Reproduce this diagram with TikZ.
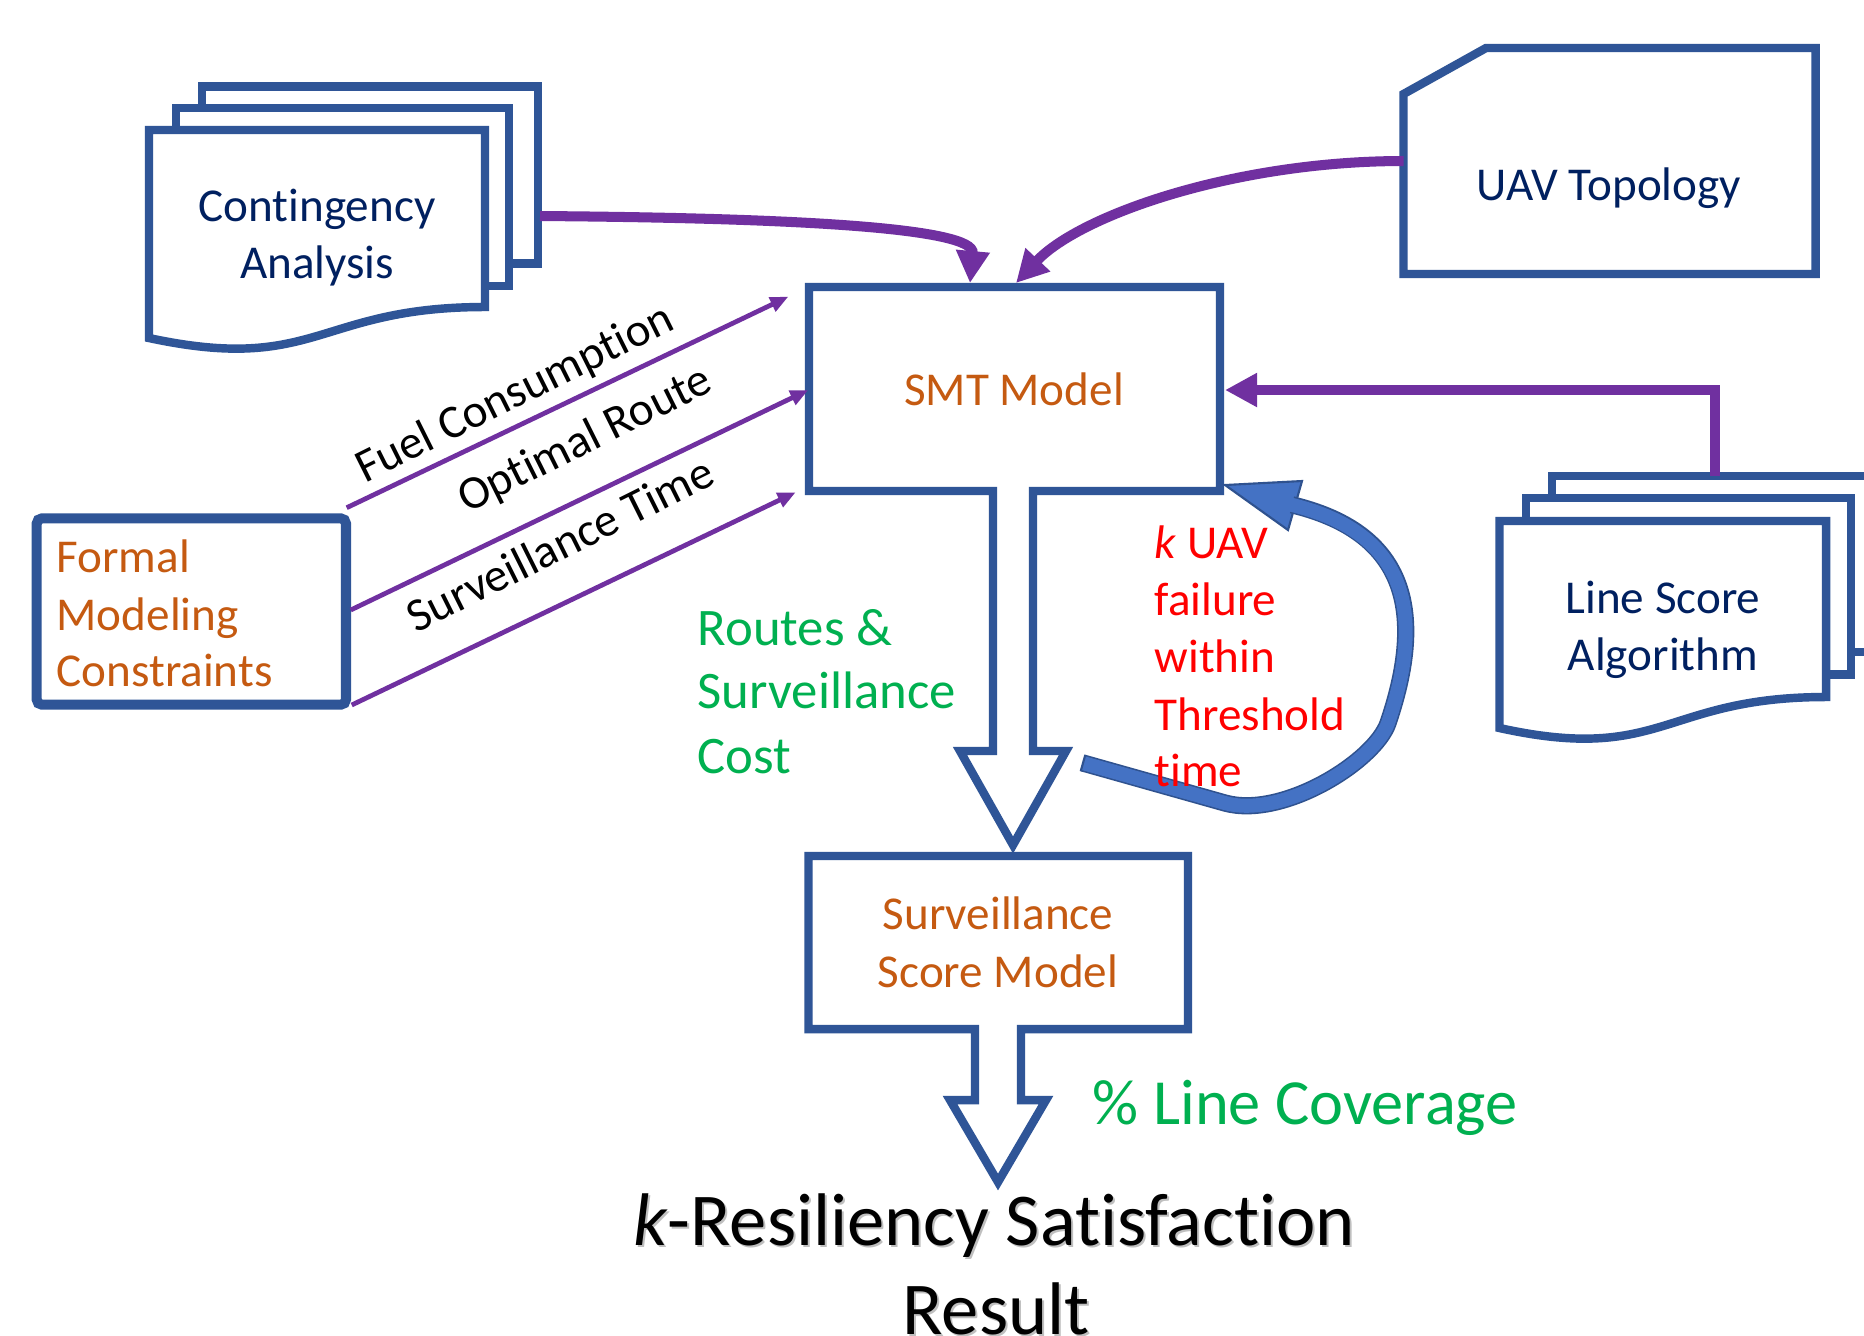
\documentclass[tikz,border=0pt]{standalone}
\usepackage{fontspec}
\setmainfont{Carlito}[Ligatures=NoCommon]
\usetikzlibrary{arrows.meta}

\definecolor{boxblue}{HTML}{2F5597}
\definecolor{navytext}{HTML}{002060}
\definecolor{rusttext}{HTML}{C55A11}
\definecolor{flowpurple}{HTML}{7030A0}
\definecolor{leafgreen}{HTML}{00B050}
\definecolor{alertred}{HTML}{FF0000}
\definecolor{loopblue}{HTML}{4472C4}
\definecolor{loopedge}{HTML}{2F528F}

\newcommand\sizeBody{\fontsize{13.4pt}{16pt}\selectfont}
\newcommand\sizeGreen{\fontsize{15pt}{18pt}\selectfont}
\newcommand\sizeCover{\fontsize{18.3pt}{21pt}\selectfont}
\newcommand\sizeTitle{\fontsize{21.2pt}{25pt}\selectfont}

\begin{document}
\begin{tikzpicture}[x=0.01cm,y=-0.01cm,
  shapeline/.style={draw=boxblue, line width=2.4pt, fill=white, line join=miter, miter limit=10},
  bigarrow/.style={draw=flowpurple, line width=2.85pt, -{Triangle[length=3.2mm,width=3.2mm]}},
  thinarrow/.style={draw=flowpurple, line width=1.35pt, -{Triangle[length=1.8mm,width=1.5mm]}},
  txt/.style={inner sep=0pt, font=\sizeBody},
  navylbl/.style={txt, text=navytext, anchor=base},
  rustlbl/.style={txt, text=rusttext},
  greenlbl/.style={inner sep=0pt, font=\sizeGreen, text=leafgreen, anchor=base west},
  redlbl/.style={txt, text=alertred, anchor=base west},
  slantlbl/.style={txt, text=black, anchor=base, rotate=26.5},
  titlelbl/.style={inner sep=0pt, font=\sizeTitle, anchor=base}
]
% page
\useasboundingbox (0,0) rectangle (1864,1335);
\fill[white] (0,0) rectangle (1864,1335);

% ---------- Contingency Analysis: stacked documents ----------
\draw[shapeline] (202,86.5) rectangle (538,263.5);
\draw[shapeline] (176,108) rectangle (509,286);
\draw[shapeline] (149,130) -- (485,130) -- (485,307)
  .. controls (317,307) and (317,374) .. (149,338) -- cycle;
\node[navylbl] (caA) at (317,221) {Contingency};
\node[navylbl] (caB) at (317,278) {Analysis};
\coordinate (caOut) at (540,216);

% ---------- UAV Topology: snipped rectangle ----------
\draw[shapeline] (1403.5,94) -- (1486,48) -- (1815.6,48) -- (1815.6,274)
  -- (1403.5,274) -- cycle;
\node[navylbl] (uav) at (1609,200) {UAV Topology};
\coordinate (uavOut) at (1403.5,161);

% ---------- Line Score Algorithm: stacked documents ----------
\draw[shapeline] (1552,476) rectangle (1880,652);
\draw[shapeline] (1526,497.7) rectangle (1851,674.3);
\draw[shapeline] (1499.5,521) -- (1826,521) -- (1826,697)
  .. controls (1663,697) and (1663,764) .. (1499.5,728) -- cycle;
\node[navylbl] (lsA) at (1663,613) {Line Score};
\node[navylbl] (lsB) at (1663,670) {Algorithm};
\coordinate (lsOut) at (1715,476);
\coordinate (lsBend) at (1715,390);

% ---------- SMT Model with down-arrow outlet ----------
\draw[shapeline] (809,287) -- (1220,287) -- (1220,491) -- (1033,491) -- (1033,751)
  -- (1066,751) -- (1013,845) -- (960,751) -- (993,751) -- (993,491)
  -- (809,491) -- cycle;
\node[rustlbl, anchor=base] (smt) at (1014,405) {SMT Model};
\coordinate (smtInA) at (970,283);
\coordinate (smtInB) at (1016,283);
\coordinate (smtInC) at (1225,390);
\coordinate (smtInD) at (788.3,296.7);
\coordinate (smtInE) at (808.3,390);
\coordinate (smtInF) at (795.7,492.3);

% ---------- Surveillance Score Model with down-arrow outlet ----------
\draw[shapeline] (808.5,856) -- (1188,856) -- (1188,1029) -- (1021,1029) -- (1021,1100)
  -- (1046,1100) -- (998,1182) -- (950,1100) -- (975,1100) -- (975,1029)
  -- (808.5,1029) -- cycle;
\node[rustlbl, anchor=base] (ssA) at (998,929.6) {Surveillance};
\node[rustlbl, anchor=base] (ssB) at (998,987) {Score Model};

% ---------- Formal Modeling Constraints ----------
\draw[draw=boxblue, line width=2.85pt, fill=white, rounded corners=1.5pt]
  (36.7,518.3) rectangle (346,704.7);
\node[rustlbl, anchor=base west] (fmA) at (56,572.7) {Formal};
\node[rustlbl, anchor=base west] (fmB) at (56,630) {Modeling};
\node[rustlbl, anchor=base west] (fmC) at (56,686.7) {Constraints};
\coordinate (fmOutA) at (346.7,507.7);
\coordinate (fmOutB) at (350.7,610);
\coordinate (fmOutC) at (351.7,705);

% ---------- inputs to the SMT model ----------
\draw[bigarrow] (caOut) .. controls (800,218) and (975,228) .. (smtInA);
\draw[bigarrow] (uavOut) .. controls (1235,161) and (1080,215) .. (smtInB);
\draw[bigarrow] (lsOut) -- (lsBend) -- (smtInC);

\draw[thinarrow] (fmOutA) -- (smtInD);
\draw[thinarrow] (fmOutB) -- (smtInE);
\draw[thinarrow] (fmOutC) -- (smtInF);
\node[slantlbl] (fuel) at (521,406) {Fuel Consumption};
\node[slantlbl] (route) at (591,452) {Optimal Route};
\node[slantlbl] (stime) at (567,558) {Surveillance Time};

% ---------- feedback loop (k UAV failures) ----------
\filldraw[fill=loopblue, draw=loopedge, line width=0.6pt, line join=miter]
  (1225,485) -- (1302,481) -- (1288,530) -- cycle;
\draw[loopedge, line width=4.9pt]
  (1083,763) -- (1225,803) .. controls (1283,819) and (1375,761) .. (1388,723)
  .. controls (1430,600) and (1397,530) .. (1292,504.8);
\draw[loopblue, line width=4.0pt]
  (1083.3,763.1) -- (1225,803) .. controls (1283,819) and (1375,761) .. (1388,723)
  .. controls (1430,600) and (1397,530) .. (1290,504.4);
\draw[loopedge, line width=0.6pt] (1085.3,754.8) -- (1080.7,771.2);

% ---------- annotations ----------
\node[greenlbl] (rcA) at (697,645.7) {Routes \&};
\node[greenlbl] (rcB) at (697,708.3) {Surveillance};
\node[greenlbl] (rcC) at (697,773.3) {Cost};

\node[redlbl] (kfA) at (1154,558.3) {\textit{k} UAV};
\node[redlbl] (kfB) at (1154,615) {failure};
\node[redlbl] (kfC) at (1154,672.7) {within};
\node[redlbl] (kfD) at (1154,730.7) {Threshold};
\node[redlbl] (kfE) at (1154,786.7) {time};

\node[inner sep=0pt, font=\sizeCover, text=leafgreen, anchor=base west] (cover) at (1092,1124) {\% Line Coverage};

% ---------- result, with a soft drop shadow ----------
\node[titlelbl, text=black!25] (resAs) at (996,1247) {\textit{k}-Resiliency Satisfaction};
\node[titlelbl, text=black!25] (resBs) at (998,1336) {Result};
\node[titlelbl, text=black] (resA) at (994,1245) {\textit{k}-Resiliency Satisfaction};
\node[titlelbl, text=black] (resB) at (996,1334) {Result};
\end{tikzpicture}
\end{document}
